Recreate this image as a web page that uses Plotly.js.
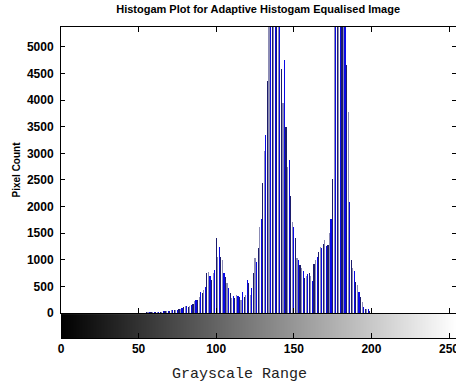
<!DOCTYPE html>
<html>
<head>
<meta charset="utf-8">
<script src="https://cdn.plot.ly/plotly-3.0.1.min.js"></script>
<style>html,body{margin:0;padding:0;background:#fff;}#chart{width:456px;height:385px;}</style>
</head>
<body>
<div id="chart"></div>
<script>
// Gray levels 55..199 with their pixel counts (all other levels are 0)
var startLevel = 55;
var counts = [
  10, 12, 12, 15, 15, 18, 20, 20, 22, 25,          // 55-64
  25, 28, 35, 38, 40, 45, 50, 55, 60, 55,          // 65-74
  60, 70, 75, 90, 110, 130, 125, 120, 130, 145,    // 75-84
  160, 230, 250, 240, 300, 390, 370, 430, 490, 760, // 85-94
  770, 700, 620, 750, 800, 1410, 1060, 1240, 1050, 1000, // 95-104
  750, 680, 560, 470, 375, 290, 310, 280, 340, 320, // 105-114
  300, 250, 390, 300, 340, 620, 560, 340, 465, 750, // 115-124
  1030, 960, 1215, 1620, 1760, 2440, 3045, 3345, 4360, 5800, // 125-134
  6500, 7000, 7200, 7000, 6800, 6200, 5600, 4590, 3950, 4755, // 135-144
  3500, 2745, 2875, 2200, 1716, 1620, 1400, 1030, 1000, 900,  // 145-154
  850, 780, 650, 700, 730, 750, 700, 600, 920, 1000, // 155-164
  1050, 1150, 1240, 1220, 1300, 1370, 1260, 1280, 1500, 1760, // 165-174
  2510, 6000, 6800, 7200, 7500, 7300, 7000, 6600, 6100, 4660, // 175-184
  3780, 2080, 1000, 840, 780, 590, 530, 400, 300, 210, // 185-194
  120, 70, 70, 70, 40                               // 195-199
];
var xTicks = [0, 50, 100, 150, 200, 250];
var yTicks = [0, 500, 1000, 1500, 2000, 2500, 3000, 3500, 4000, 4500, 5000];
var titleText = "Histogam Plot for Adaptive Histogam Equalised Image";
var xTitle = "Grayscale Range";
var yTitle = "Pixel Count";

var levels = [];
for (var i = 0; i < counts.length; i++) levels.push(startLevel + i);
var palette = ['#0a0ae6', '#1c1c6a', '#8c8cb4'];
var barColors = levels.map(function (v) { return palette[v % 3]; });

var gradX = [];
for (var g = 0; g <= 255; g++) gradX.push(g);

var boldFam = "'Liberation Sans Narrow','Arial Narrow','Liberation Sans',Arial,sans-serif";
var tickFont = {family: boldFam, size: 12, color: '#000', weight: 'bold'};

var traces = [
  {
    type: 'bar', x: levels, y: counts, width: 0.75,
    marker: {color: barColors, line: {width: 0}},
    xaxis: 'x', yaxis: 'y', hoverinfo: 'x+y'
  },
  {
    type: 'heatmap', x: gradX, y: [0], z: [gradX],
    colorscale: [[0, '#000000'], [1, '#ffffff']], zmin: 0, zmax: 255,
    showscale: false, xaxis: 'x2', yaxis: 'y2', hoverinfo: 'skip'
  }
];

var layout = {
  width: 456, height: 385,
  margin: {l: 61, r: 0, t: 27, b: 47},
  paper_bgcolor: '#fff', plot_bgcolor: '#fff',
  showlegend: false, bargap: 0,
  title: {text: titleText, x: 0.566, xanchor: 'center', y: 0.975, yanchor: 'middle',
          font: {family: boldFam, size: 11, color: '#000', weight: 'bold'}},
  xaxis: {
    domain: [0, 1], range: [0, 254.5], anchor: 'y',
    tickmode: 'array', tickvals: xTicks, showticklabels: false,
    ticks: 'inside', ticklen: 5, tickcolor: '#000', tickwidth: 1,
    showline: true, linecolor: '#000', linewidth: 1, mirror: 'ticks',
    showgrid: false, zeroline: false
  },
  yaxis: {
    domain: [0.0805, 1], range: [0, 5375], anchor: 'x',
    tickmode: 'array', tickvals: yTicks, ticktext: yTicks.map(String),
    ticks: 'inside', ticklen: 4, tickcolor: '#000',
    showline: true, linecolor: '#000', linewidth: 1, mirror: 'ticks',
    showgrid: false, zeroline: false, tickfont: tickFont, ticklabelstandoff: 4,
    title: {text: yTitle, standoff: 4, font: {family: boldFam, size: 10, color: '#000', weight: 'bold'}}
  },
  xaxis2: {
    domain: [0, 1], range: [0, 254.5], anchor: 'y2', matches: 'x',
    tickmode: 'array', tickvals: xTicks, ticktext: xTicks.map(String),
    ticks: 'inside', ticklen: 5, tickcolor: '#000',
    showline: true, linecolor: '#000', linewidth: 1, mirror: true,
    showgrid: false, zeroline: false, tickfont: tickFont, ticklabeloverflow: 'allow'
  },
  yaxis2: {
    domain: [0, 0.077], range: [-0.5, 0.5], anchor: 'x2',
    showticklabels: false, ticks: '', showgrid: false, zeroline: false,
    showline: false
  },
  annotations: [{
    text: xTitle, xref: 'paper', yref: 'paper', x: 0.452, y: -0.118,
    xanchor: 'center', yanchor: 'middle', showarrow: false,
    font: {family: "'Liberation Mono','DejaVu Sans Mono',monospace", size: 15, color: '#222'}
  }]
};

Plotly.newPlot('chart', traces, layout, {displayModeBar: false, staticPlot: true});
</script>
</body>
</html>
